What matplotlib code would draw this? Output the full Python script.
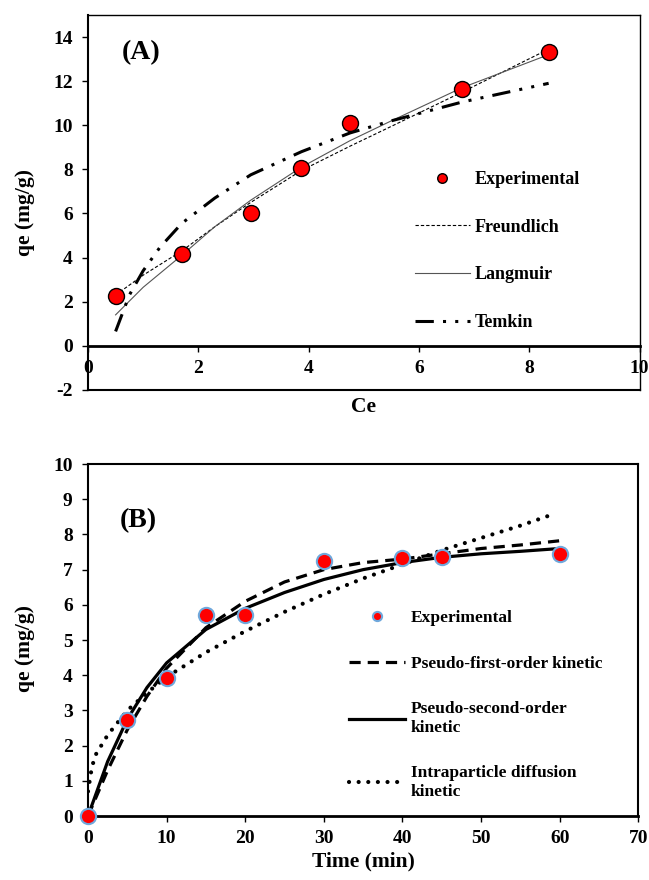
import matplotlib
matplotlib.use("Agg")
import matplotlib.pyplot as plt
import numpy as np

plt.rcParams["font.family"] = ["Liberation Serif", "DejaVu Serif"]
plt.rcParams["font.weight"] = "bold"
plt.rcParams["axes.unicode_minus"] = False

# ---- Panel A: isotherms ----
ce_exp = [0.5, 1.7, 2.95, 3.87, 4.75, 6.78, 8.35]
qe_exp = [2.25, 4.15, 6.0, 8.07, 10.12, 11.62, 13.33]

ce_freund = [0.5, 1.0, 1.7, 2.3, 2.95, 3.87, 4.75, 5.5, 6.78, 8.35]
qe_freund = [2.3, 3.2, 4.3, 5.4, 6.5, 7.95, 9.05, 9.95, 11.5, 13.45]

ce_lang = [0.5, 1.0, 1.7, 2.3, 2.95, 3.87, 4.75, 5.5, 6.78, 8.35]
qe_lang = [1.4, 2.65, 4.1, 5.4, 6.6, 8.1, 9.3, 10.2, 11.7, 13.2]

ce_temkin = [0.5, 0.75, 1.0, 1.3, 1.7, 2.3, 2.95, 3.87, 4.75, 5.5, 6.78, 8.35]
qe_temkin = [0.65, 2.3, 3.4, 4.45, 5.55, 6.7, 7.75, 8.8, 9.65, 10.2, 11.05, 11.9]

# ---- Panel B: kinetics ----
t_exp = [0, 5, 10, 15, 20, 30, 40, 45, 60]
qt_exp = [0.0, 2.72, 3.92, 5.72, 5.72, 7.25, 7.32, 7.37, 7.43]

t_fit = [0, 2.5, 5, 7.5, 10, 15, 20, 25, 30, 35, 40, 45, 50, 55, 60]
qt_pfo = [0, 1.3, 2.45, 3.4, 4.2, 5.35, 6.1, 6.65, 7.0, 7.2, 7.3, 7.45, 7.6, 7.7, 7.82]
qt_pso = [0, 1.55, 2.75, 3.65, 4.35, 5.3, 5.9, 6.35, 6.72, 7.0, 7.2, 7.35, 7.45, 7.52, 7.6]

t_ipd = [0, 0.5, 1, 2.5, 5, 7.5, 10, 15, 20, 25, 30, 35, 40, 45, 50, 55, 59.5]
qt_ipd = [0.7, 1.4, 1.75, 2.3, 3.0, 3.5, 3.95, 4.65, 5.25, 5.8, 6.3, 6.75, 7.15, 7.55, 7.9, 8.25, 8.6]

TICK_FS = 14
LABEL_FS = 15.5

fig = plt.figure(figsize=(6.49, 8.80), dpi=100)

# ================= Panel A =================
axA = fig.add_axes([0.1356, 0.557, 0.850, 0.426])
axA.plot(ce_freund, qe_freund, color="black", lw=0.8, dashes=(3, 1.8), label="Freundlich")
axA.plot(ce_lang, qe_lang, color="#555555", lw=0.8, label="Langmuir")
axA.plot(ce_temkin, qe_temkin, color="black", lw=2.2, dashes=(6, 3, 1, 3, 1, 3), label="Temkin")
axA.plot(ce_exp, qe_exp, "o", ms=11.5, mfc="red", mec="black", mew=1.0, zorder=5,
         label="Experimental")
axA.set_xlim(0, 10)
axA.set_ylim(-2, 15)
axA.set_xticks(np.arange(0, 11, 2))
axA.set_yticks(np.arange(-2, 15, 2))
axA.spines["bottom"].set_position(("data", 0))
axA.spines["bottom"].set_linewidth(2.0)
axA.axhline(-2, color="black", lw=1.5, clip_on=False)
for s in ("top", "right"):
    axA.spines[s].set_linewidth(1.0)
axA.spines["left"].set_linewidth(1.5)
axA.tick_params(axis="both", direction="out", length=4, width=1, labelsize=TICK_FS)
axA.tick_params(axis="x", pad=6)
axA.tick_params(axis="y", pad=7)
axA.set_xlabel("Ce", fontsize=LABEL_FS, fontweight="bold")
axA.xaxis.set_label_coords(0.5, -0.02)
axA.set_ylabel("qe (mg/g)", fontsize=LABEL_FS, fontweight="bold")
axA.yaxis.set_label_coords(-0.096, 0.472)
axA.text(0.062, 0.90, "(A)", transform=axA.transAxes, fontsize=20, fontweight="bold",
         va="center", ha="left")
h, l = axA.get_legend_handles_labels()
order = [3, 0, 1, 2]
axA.legend([h[i] for i in order], [l[i] for i in order], loc="upper left",
           bbox_to_anchor=(0.592, 0.584), frameon=False,
           handlelength=3.05, handletextpad=0.28, labelspacing=1.7, markerscale=0.6,
           borderpad=0, borderaxespad=0, prop={"weight": "bold", "size": 13})

# ================= Panel B =================
axB = fig.add_axes([0.1356, 0.0727, 0.848, 0.400])
axB.plot(t_fit, qt_pfo, color="black", lw=2.3, dashes=(3.5, 2.2),
         label="Pseudo-first-order kinetic")
axB.plot(t_fit, qt_pso, color="black", lw=2.3, label="Pseudo-second-order\nkinetic")
axB.plot(t_ipd, qt_ipd, color="black", lw=3.0, dashes=(0.01, 2.3), dash_capstyle="round",
         label="Intraparticle diffusion\nkinetic")
axB.plot(t_exp, qt_exp, "o", ms=11, mfc="red", mec="#6fa8dc", mew=1.5, zorder=5,
         clip_on=False, label="Experimental")
axB.set_xlim(0, 70)
axB.set_ylim(0, 10)
axB.set_xticks(np.arange(0, 71, 10))
axB.set_yticks(np.arange(0, 11, 1))
axB.spines["bottom"].set_linewidth(2.0)
axB.spines["left"].set_linewidth(1.5)
for s in ("top", "right"):
    axB.spines[s].set_linewidth(1.5)
axB.tick_params(axis="both", direction="out", length=4, width=1, labelsize=TICK_FS)
axB.tick_params(axis="x", pad=6)
axB.tick_params(axis="y", pad=7)
axB.set_xlabel("Time (min)", fontsize=LABEL_FS, fontweight="bold", labelpad=3)
axB.set_ylabel("qe (mg/g)", fontsize=LABEL_FS, fontweight="bold")
axB.yaxis.set_label_coords(-0.096, 0.477)
axB.text(0.058, 0.838, "(B)", transform=axB.transAxes, fontsize=20, fontweight="bold",
         va="center", ha="left")
h, l = axB.get_legend_handles_labels()
order = [3, 0, 1, 2]
axB.legend([h[i] for i in order], [l[i] for i in order], loc="upper left",
           bbox_to_anchor=(0.4745, 0.585), frameon=False,
           handlelength=3.2, handletextpad=0.35, labelspacing=1.7, markerscale=0.6,
           borderpad=0, borderaxespad=0, prop={"weight": "bold", "size": 12.5})

fig.savefig("out.png", dpi=100)
